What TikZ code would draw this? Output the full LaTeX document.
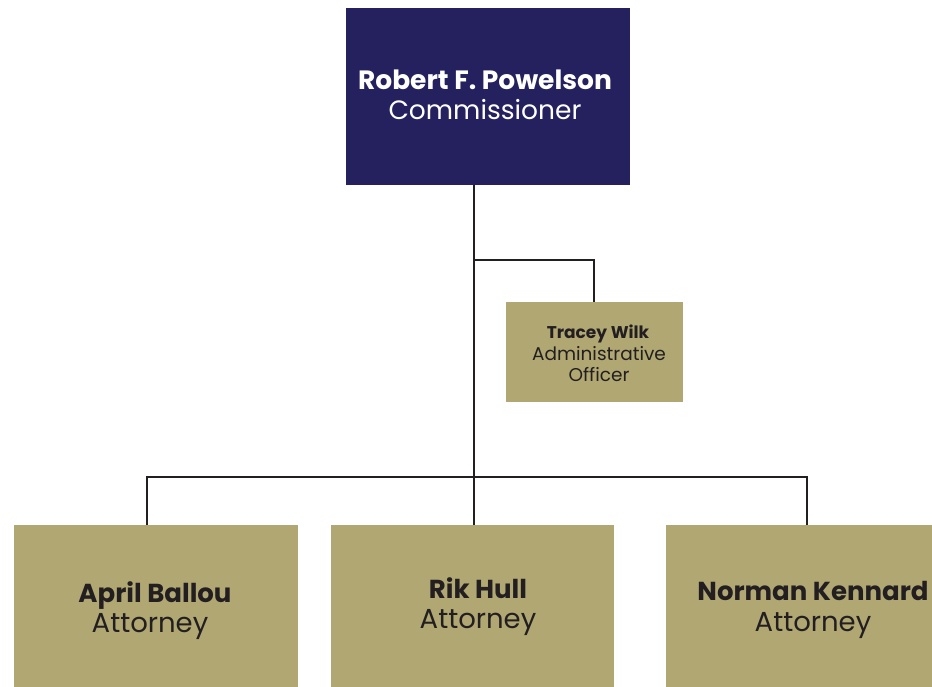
\documentclass[tikz,border=0pt]{standalone}
\usepackage{fontspec}
\setmainfont{Poppins}
\definecolor{navy}{HTML}{25215F}
\definecolor{khaki}{HTML}{B0A773}
\definecolor{ink}{HTML}{231F20}
\begin{document}
\begin{tikzpicture}[x=1pt,y=-1pt,
  box/.style={draw=none,inner sep=0pt,outer sep=0pt},
  conn/.style={draw=ink,line width=1.6pt},
  pname/.style={font=\fontsize{26}{30}\selectfont\bfseries,text=ink},
  prole/.style={font=\fontsize{27.5}{30}\selectfont,text=ink}]
\useasboundingbox (0,0) rectangle (932,687);
% boxes
\fill[navy] (346,8) rectangle (630,185);
\coordinate (topS) at (474,185);
\fill[khaki] (506,302) rectangle (683,402);
\coordinate (twN) at (594,302);
\fill[khaki] (14,525) rectangle (298,687);
\fill[khaki] (331,525) rectangle (614,687);
\fill[khaki] (666,525) rectangle (940,687);
\coordinate (abN) at (147,525);
\coordinate (rhN) at (474,525);
\coordinate (nkN) at (807,525);
\coordinate (split) at (474,260);
\coordinate (bar) at (474,477);
% texts
\node[box,anchor=base,text=white,font=\fontsize{26.5}{30}\selectfont\bfseries] (rp) at (485,90) {Robert F. Powelson};
\node[box,anchor=base,text=white,font=\fontsize{26.5}{30}\selectfont] (rpc) at (485,120) {Commissioner};
\node[box,anchor=base,text=ink,font=\fontsize{17}{20}\selectfont\bfseries] (tw) at (598,338) {Tracey Wilk};
\node[box,anchor=base,text=ink,font=\fontsize{18.5}{20}\selectfont] (tw2) at (599,360) {Administrative};
\node[box,anchor=base,text=ink,font=\fontsize{18.5}{20}\selectfont] (tw3) at (599,381) {Officer};
\node[box,anchor=base,pname] (ab) at (155,602) {April Ballou};
\node[box,anchor=base,prole] (ab2) at (150,632) {Attorney};
\node[box,anchor=base,pname] (rh) at (478,598) {Rik Hull};
\node[box,anchor=base,prole] (rh2) at (478,628) {Attorney};
\node[box,anchor=base,pname] (nk) at (813,600) {Norman Kennard};
\node[box,anchor=base,prole] (nk2) at (813,631) {Attorney};
% connectors
\draw[conn] (topS) -- (rhN);
\draw[conn] (split) -| (twN);
\draw[conn] (abN) |- (bar) -| (nkN);
\end{tikzpicture}
\end{document}
